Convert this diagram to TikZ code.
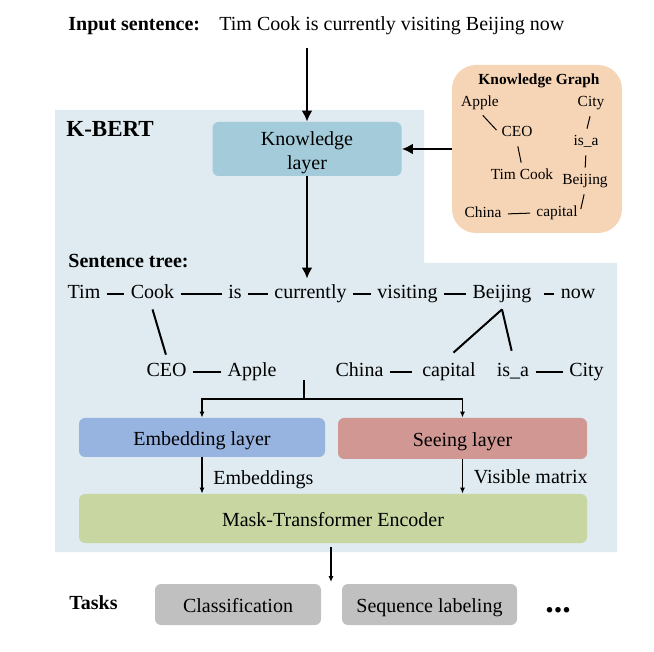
\documentclass[tikz,border=0pt]{standalone}
\usepackage{fontspec}
\setmainfont{Liberation Serif}
\usetikzlibrary{arrows.meta,positioning}

\definecolor{kbertbg}{RGB}{223,235,241}
\definecolor{knowfill}{RGB}{163,203,218}
\definecolor{kgfill}{RGB}{246,213,182}
\definecolor{embfill}{RGB}{151,179,223}
\definecolor{seefill}{RGB}{208,151,147}
\definecolor{maskfill}{RGB}{200,214,161}
\definecolor{taskfill}{RGB}{192,192,192}

\tikzset{
  word/.style={inner sep=3pt, text height=7pt, text depth=2pt, anchor=base},
  kgword/.style={font=\fontsize{7.7}{9}\selectfont, inner sep=1pt, text height=5.5pt, text depth=1.5pt, anchor=base},
  label/.style={anchor=base west, inner sep=0pt},
  box/.style={rounded corners=3pt},
  onerow/.style={text height=8.5pt, text depth=0.5pt},
  bigarr/.style={-{Latex[length=5.5pt,width=5.5pt]}, line width=1.4pt},
  smallarr/.style={-{Latex[length=3pt,width=2.6pt]}, line width=0.75pt},
  treeline/.style={line width=1pt},
  kgline/.style={line width=0.5pt, shorten <=2pt, shorten >=2pt},
}

\begin{document}
\begin{tikzpicture}[x=0.5pt, y=-0.5pt]
  \useasboundingbox (0,0) rectangle (654,652);
  % K-BERT area
  \fill[kbertbg] (55,110) -- (424,110) -- (424,263) -- (617,263) -- (617,552) -- (55,552) -- cycle;

  % input and titles
  \node[label, font=\bfseries] (inlab) at (68,31) {Input sentence:};
  \node[label] (sent) at (219,31) {Tim Cook is currently visiting Beijing now};
  \node[label, font=\fontsize{11.5}{14}\selectfont\bfseries] (kbert) at (66,137) {K-BERT};
  \node[label, font=\bfseries] (stlab) at (68,268) {Sentence tree:};
  \node[label, font=\bfseries] (tasks) at (69,609) {Tasks};

  % knowledge layer and graph
  \node[box, fill=knowfill, align=center, inner ysep=1pt, minimum width=94.5pt, minimum height=27pt] (know) at (307,149) {\rule{0pt}{10.5pt}Knowledge\\layer};
  \node[fill=kgfill, rounded corners=12pt, minimum width=85pt, minimum height=84pt] (kg) at (537,149) {};
  \node[kgword, font=\fontsize{7.7}{9}\selectfont\bfseries] (kgtitle) at (539,85) {Knowledge Graph};
  \node[kgword] (kapple) at (480,107) {Apple};
  \node[kgword] (kcity) at (591,107) {City};
  \node[kgword] (kceo) at (517,137) {CEO};
  \node[kgword] (kisa) at (586,146) {is\_a};
  \node[kgword] (ktim) at (522,180) {Tim Cook};
  \node[kgword] (kbj) at (585,185) {Beijing};
  \node[kgword] (kchina) at (483,218) {China};
  \node[kgword] (kcap) at (557,217) {capital};
  \begin{scope}[kgline]
    \draw (kapple.south) -- (kceo.west);
    \draw (kceo.south) -- (ktim.north);
    \draw (kcity.south) -- (kisa.north);
    \draw (kisa.south) -- (kbj.north);
    \draw (kbj.south) -- (kcap.east);
    \draw (kchina.east) -- (kcap.west);
  \end{scope}

  % sentence tree
  \node[word] (tim) at (84,299) {Tim};
  \node[word] (cook) at (152.5,299) {Cook};
  \node[word] (is) at (235,299) {is};
  \node[word] (cur) at (310.5,299) {currently};
  \node[word] (vis) at (407.5,299) {visiting};
  \node[word] (bj) at (502,299) {Beijing};
  \node[word] (now) at (578,299) {now};
  \node[word] (ceo) at (166.5,377) {CEO};
  \node[word] (apple) at (252,377) {Apple};
  \node[word] (china) at (359.5,377) {China};
  \node[word] (cap) at (449,377) {capital};
  \node[word] (isa) at (513,377) {is\_a};
  \node[word] (city) at (586.5,377) {City};
  \begin{scope}[treeline]
    \draw (tim) -- (cook);
    \draw (cook) -- (is);
    \draw (is) -- (cur);
    \draw (cur) -- (vis);
    \draw (vis) -- (bj);
    \draw[shorten <=3pt] (bj) -- (now);
    \draw (ceo) -- (apple);
    \draw[shorten >=2pt] (china) -- (cap);
    \draw (isa) -- (city);
    \draw[shorten >=1pt] (cook.south) -- (ceo.north);
    \draw[shorten >=3pt] (bj.south) -- (cap.north);
    \draw[shorten >=3pt] (bj.south) -- (isa.north);
  \end{scope}

  % layers
  \node[box, onerow, fill=embfill, minimum width=123pt, minimum height=19.5pt] (emb) at (202,437.5) {Embedding layer};
  \node[box, onerow, fill=seefill, minimum width=124.5pt, minimum height=20.5pt] (see) at (462.5,438.5) {Seeing layer};
  \node[box, onerow, fill=maskfill, minimum width=254pt, minimum height=24.5pt] (mask) at (333,518.5) {Mask-Transformer Encoder};
  \node[box, onerow, fill=taskfill, minimum width=83pt, minimum height=20.5pt] (cls) at (238,604.5) {Classification};
  \node[box, onerow, fill=taskfill, minimum width=87.5pt, minimum height=20.5pt] (seq) at (429.5,604.5) {Sequence labeling};
  \node[label, font=\fontsize{17}{20}\selectfont\bfseries] (more) at (545,612) {...};

  % arrows
  \coordinate (in) at (307,48);
  \coordinate (fk) at (304,380);
  \coordinate (fj) at (304,399);
  \coordinate (tk) at (331,582);
  \draw[bigarr] (in) -- (know);
  \draw[bigarr] (kg) -- (know);
  \draw[bigarr] (know) -- (know |- cur.north);
  \draw[line width=0.75pt] (fk) -- (fj);
  \draw[smallarr] (fj) -| (emb);
  \draw[smallarr] (fj) -| (see);
  \draw[smallarr] (emb) -- node[right=2pt, yshift=-2pt] (embtxt) {Embeddings} (emb |- mask.north);
  \draw[smallarr] (see) -- node[right=2pt] (vistxt) {Visible matrix} (see |- mask.north);
  \draw[smallarr, shorten <=2pt] (tk |- mask.south) -- (tk);
\end{tikzpicture}
\end{document}
